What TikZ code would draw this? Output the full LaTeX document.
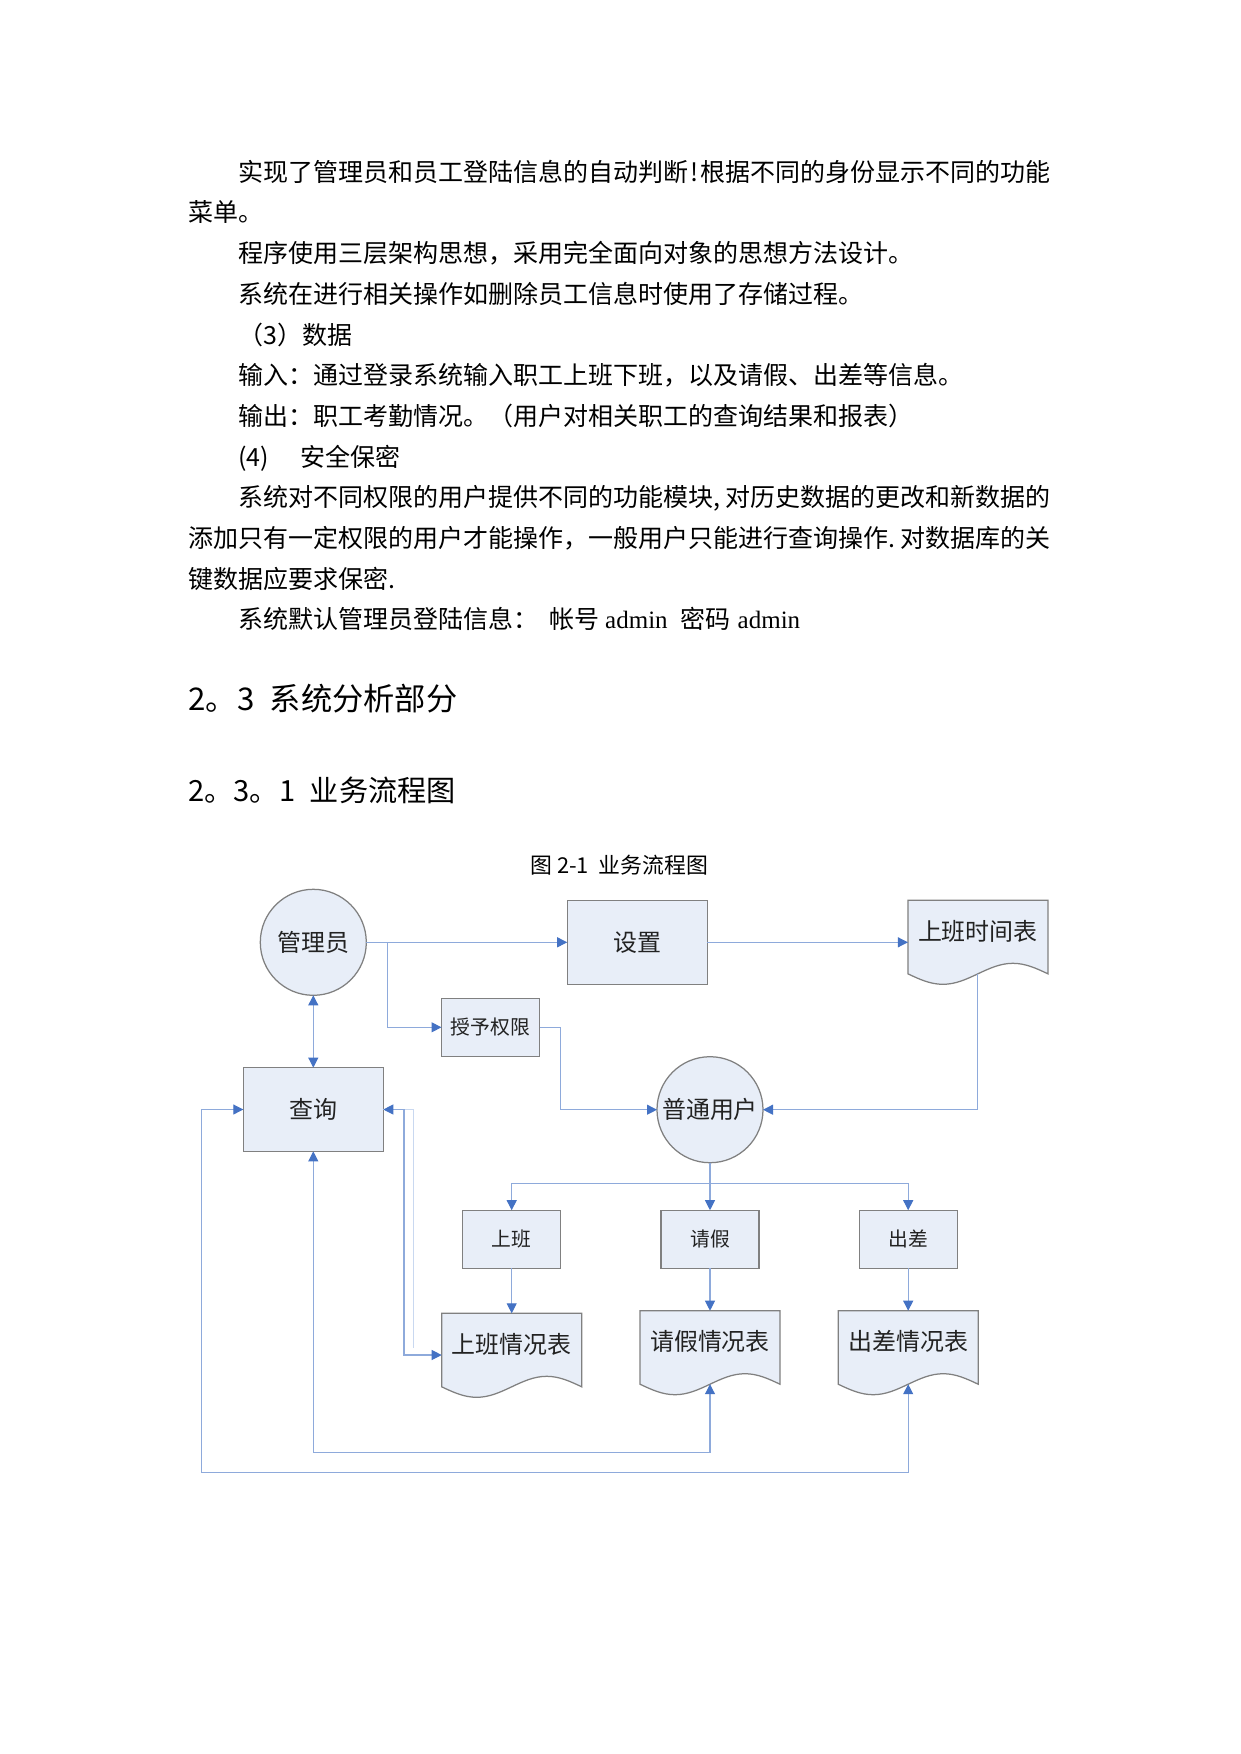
\documentclass[tikz,border=0pt]{standalone}
\usepackage{fontspec}
\setmainfont{Noto Sans CJK SC}
\newfontfamily\latinserif{Liberation Serif}
\usetikzlibrary{arrows.meta,calc}
\pgfdeclarelayer{bg}
\pgfsetlayers{bg,main}
\definecolor{boxfill}{HTML}{E8EEF8}
\definecolor{boxline}{HTML}{808080}
\definecolor{connblue}{HTML}{8EAADB}
\definecolor{connlight}{HTML}{C9D8F0}
\definecolor{tipblue}{HTML}{4472C4}
\definecolor{dtext}{HTML}{222222}
\newcommand\docoutline[1]{%
  \begin{pgfonlayer}{bg}
  \path[shapebox] (#1.north west) -- (#1.north east)
     -- ($(#1.north west)+(140,73.5)$) sin ($(#1.north west)+(105,63)$)
     cos ($(#1.north west)+(70,73.5)$) sin ($(#1.north west)+(35,84)$)
     cos ($(#1.north west)+(0,73.5)$) -- cycle;
  \end{pgfonlayer}}
\begin{document}
\begin{tikzpicture}[x=0.48pt,y=-0.48pt,
  >={Triangle[length=4.8pt,width=4.8pt,color=tipblue]},
  body/.style={font=\fontsize{12pt}{14pt}\selectfont, anchor=base west, inner sep=0pt},
  hone/.style={font=\fontsize{15pt}{17pt}\selectfont, anchor=base west, inner sep=0pt},
  htwo/.style={font=\fontsize{14pt}{16pt}\selectfont, anchor=base west, inner sep=0pt},
  captext/.style={font=\fontsize{10.5pt}{12pt}\selectfont, anchor=base west, inner sep=0pt},
  shapebox/.style={draw=boxline, fill=boxfill, line width=0.6pt},
  proc/.style={shapebox, rectangle, minimum width=67.2pt, minimum height=40.2pt, inner sep=0pt, outer sep=0pt, text=dtext, font=\fontsize{11.5pt}{13pt}\selectfont},
  procs/.style={shapebox, rectangle, minimum width=47.04pt, minimum height=27.84pt, inner sep=0pt, outer sep=0pt, text=dtext, font=\fontsize{9.5pt}{11pt}\selectfont},
  circ/.style={shapebox, circle, minimum size=50.88pt, inner sep=0pt, outer sep=0pt, text=dtext, font=\fontsize{11.5pt}{13pt}\selectfont},
  docnode/.style={rectangle, minimum width=67.2pt, minimum height=29.76pt, inner sep=0pt, outer sep=0pt, text=dtext, font=\fontsize{11.5pt}{13pt}\selectfont},
  conn/.style={draw=connblue, line width=0.5pt},
  connl/.style={draw=connlight, line width=0.5pt}]
\begin{pgfonlayer}{bg}
\fill[white] (0,0) rectangle (1241,1754);
\end{pgfonlayer}
\useasboundingbox (0,0) rectangle (1241,1754);
% body text
\node[body] (t1) at (238,181.2) {实现了管理员和员工登陆信息的自动判断\makebox[0.5em]{!}根据不同的身份显示不同的功能};
\node[body] (t2) at (188,221.9) {菜单。};
\node[body] (t3) at (238,262.6) {程序使用三层架构思想，采用完全面向对象的思想方法设计。};
\node[body] (t4) at (238,303.3) {系统在进行相关操作如删除员工信息时使用了存储过程。};
\node[body] (t5) at (238,344.0) {（3）数据};
\node[body] (t6) at (238,384.7) {输入：通过登录系统输入职工上班下班，以及请假、出差等信息。};
\node[body] (t7) at (238,425.4) {输出：职工考勤情况。（用户对相关职工的查询结果和报表）};
\node[body] (t8) at (238,466.1) {\makebox[2.5em][l]{(4)}安全保密};
\node[body] (t9) at (238,506.8) {系统对不同权限的用户提供不同的功能模块\makebox[0.5em][l]{,}对历史数据的更改和新数据的};
\node[body] (t10) at (188,547.5) {添加只有一定权限的用户才能操作，一般用户只能进行查询操作\makebox[0.5em][l]{.}对数据库的关};
\node[body] (t11) at (188,588.2) {键数据应要求保密.};
\node[body] (t12) at (238,628.9) {系统默认管理员登陆信息：\ \ 帐号 {\latinserif admin}\enspace 密码\hspace{0.3em}{\latinserif admin}};
\node[hone] (h1) at (188,710.2) {2。3\enspace 系统分析部分};
\node[htwo] (h2) at (188,801.1) {2。3。1\enspace 业务流程图};
\node[captext] (cap) at (530,873.3) {图 2-1\ \ 业务流程图};
% diagram nodes
\node[circ] (gly) at (313.3,942.3) {管理员};
\node[proc] (sz) at (637.2,942.3) {设置};
\node[docnode, anchor=north] (sbsj) at (977.9,900.3) {上班时间表};
\node[procs] (syqx) at (490.5,1027.3) {授予权限};
\node[circ] (pt) at (710,1109.7) {普通用户};
\node[proc] (cx) at (313.3,1109.5) {查询};
\node[procs] (sb) at (511.7,1239.2) {上班};
\node[procs] (qj) at (710,1239.2) {请假};
\node[procs] (cc) at (908.2,1239.2) {出差};
\node[docnode, anchor=north] (sbqk) at (511.7,1313.3) {上班情况表};
\node[docnode, anchor=north] (qjqk) at (710,1310.7) {请假情况表};
\node[docnode, anchor=north] (ccqk) at (908.2,1310.7) {出差情况表};
\docoutline{sbsj}
\docoutline{sbqk}
\docoutline{qjqk}
\docoutline{ccqk}
\coordinate (sbsjb) at ($(sbsj.north)+(0,73.5)$);
\coordinate (qjqkb) at ($(qjqk.north)+(0,73.5)$);
\coordinate (ccqkb) at ($(ccqk.north)+(0,73.5)$);
\coordinate (sbqkin) at ($(sbqk.north west)+(0,41.7)$);
% connectors
\draw[conn,->] (gly.east) -- (sz.west);
\draw[conn,->] (sz.east) -- (sz.east -| sbsj.west);
\draw[conn,->] (gly.east) -- ++(21.3,0) |- (syqx.west);
\draw[conn,->] (syqx.east) -- ++(21.3,0) |- (pt.west);
\draw[conn,->] (sbsjb) |- (pt.east);
\draw[conn,<->] (gly.south) -- (cx.north);
\draw[connl] (cx.east) -- ++(30.4,0) -- ++(0,238.5);
\draw[conn,<->] (cx.east) -- ++(20.7,0) |- (sbqkin);
\draw[conn,<->] (cx.south) -- ++(0,301.4) -| (qjqkb);
\draw[conn,<->] (cx.west) -- ++(-41.5,0) -- ++(0,362.8) -| (ccqkb);
\draw[conn,->] (pt.south) -- (qj.north);
\draw[conn,->] (pt.south) -- ++(0,20.6) -| (sb.north);
\draw[conn,->] (pt.south) -- ++(0,20.6) -| (cc.north);
\draw[conn,->] (sb.south) -- (sbqk.north);
\draw[conn,->] (qj.south) -- (qjqk.north);
\draw[conn,->] (cc.south) -- (ccqk.north);
\end{tikzpicture}
\end{document}
